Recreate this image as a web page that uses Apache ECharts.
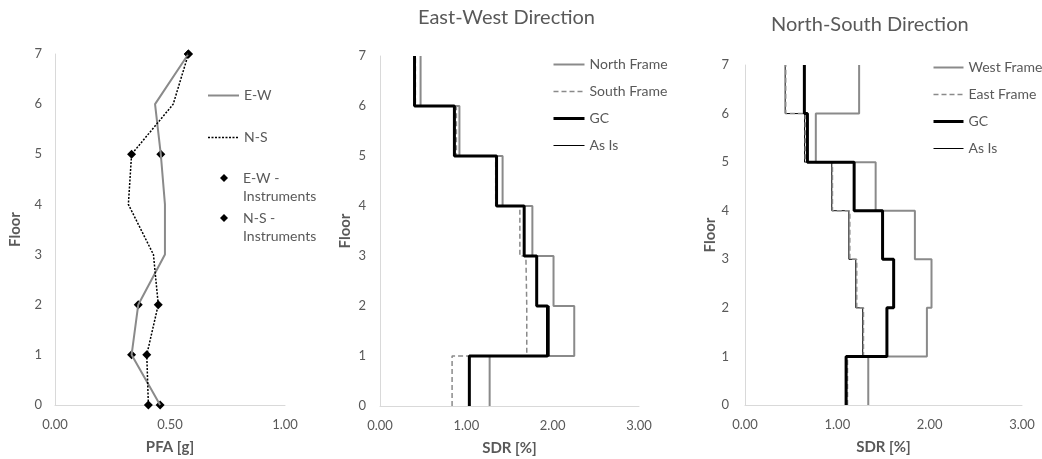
<!DOCTYPE html>
<html lang="en">
<head>
    <meta charset="UTF-8">
    <title>PFA and SDR profiles</title>
    <script src="https://cdn.jsdelivr.net/npm/echarts@6/dist/echarts.min.js"></script>
</head>
<body style="margin:0;background:#fff;">
    <div id="main" style="width:1042px;height:459px;"></div>
    <script type="text/javascript">
        // floors 0..7
        var floors = [0, 1, 2, 3, 4, 5, 6, 7];

        // left panel: peak floor acceleration [g]
        var pfaEW = [0.457, 0.333, 0.362, 0.478, 0.478, 0.46, 0.435, 0.58];
        var pfaNS = [0.406, 0.399, 0.449, 0.428, 0.319, 0.333, 0.514, 0.58];
        var instFloors = [0, 1, 2, 5, 7];
        var instEW = [0.457, 0.333, 0.362, 0.46, 0.58];
        var instNS = [0.406, 0.399, 0.449, 0.333, 0.58];

        // middle panel: story drift ratio [%], story 1..7 (East-West)
        var sdrNorth = [1.27, 2.25, 2.01, 1.765, 1.42, 0.92, 0.47];
        var sdrSouth = [0.835, 1.70, 1.69, 1.62, 1.34, 0.885, 0.41];
        var sdrGcEW = [1.035, 1.94, 1.815, 1.67, 1.35, 0.862, 0.40];
        var sdrAsIsEW = [1.035, 1.96, 1.815, 1.67, 1.35, 0.862, 0.40];

        // right panel: story drift ratio [%], story 1..7 (North-South)
        var sdrWest = [1.335, 1.97, 2.02, 1.84, 1.415, 0.767, 1.236];
        var sdrEast = [1.11, 1.283, 1.21, 1.135, 0.947, 0.652, 0.441];
        var sdrGcNS = [1.095, 1.537, 1.61, 1.49, 1.182, 0.676, 0.643];
        var sdrAsIsNS = [1.10, 1.275, 1.20, 1.125, 0.94, 0.645, 0.435];

        var font = 'Lato';
        var txt = '#595959';
        var gray = '#8a8a8a';

        function pairs(xs, ys) {
            return xs.map(function (v, i) { return [v, ys[i]]; });
        }
        // story value held between floor i and i+1
        function steps(vals) {
            var pts = [];
            vals.forEach(function (v, i) {
                pts.push([v, floors[i]], [v, floors[i + 1]]);
            });
            return pts;
        }

        function xAxis(idx, max, interval, name) {
            return {
                gridIndex: idx, type: 'value', min: 0, max: max, interval: interval,
                name: name, nameLocation: 'middle', nameGap: 35,
                nameTextStyle: { color: txt, fontFamily: font, fontSize: 15, fontWeight: 'bold' },
                axisLine: { show: true, lineStyle: { color: '#d9d9d9', width: 1 } },
                axisTick: { show: false },
                splitLine: { show: false },
                axisLabel: {
                    color: txt, fontFamily: font, fontSize: 13, margin: 13,
                    formatter: function (v) { return v.toFixed(2); }
                }
            };
        }
        function yAxis(idx, nameGap, margin) {
            return {
                gridIndex: idx, type: 'value', min: 0, max: 7, interval: 1,
                name: 'Floor', nameLocation: 'middle', nameGap: nameGap,
                nameTextStyle: { color: txt, fontFamily: font, fontSize: 15, fontWeight: 'bold' },
                axisLine: { show: true, lineStyle: { color: '#d9d9d9', width: 1 } },
                axisTick: { show: false },
                splitLine: { show: false },
                axisLabel: { color: txt, fontFamily: font, fontSize: 13, margin: margin }
            };
        }
        function stepLine(name, idx, vals, color, width, type) {
            return {
                name: name, type: 'line', xAxisIndex: idx, yAxisIndex: idx,
                data: steps(vals), symbol: 'none', silent: true,
                lineStyle: { color: color, width: width, type: type || 'solid' },
                itemStyle: { color: color }
            };
        }
        // legend of line series: only the line, no marker
        function lineLegend(left, top, gap, w, items) {
            return {
                left: left, top: top, orient: 'vertical', padding: 0,
                itemGap: gap, itemWidth: w, itemHeight: 14,
                data: items.map(function (it) {
                    return { name: it[0], lineStyle: { color: it[1], width: it[2], type: it[3] || 'solid' } };
                }),
                selectedMode: false,
                itemStyle: { opacity: 0 },
                textStyle: { color: txt, fontFamily: font, fontSize: 14, lineHeight: 18 }
            };
        }
        // legend of the instrument markers, text in two lines next to the diamond
        function markLegend(top, name) {
            return {
                left: 220, top: top, orient: 'vertical', padding: 0,
                itemWidth: 8, itemHeight: 8,
                data: [{ name: name, icon: 'diamond' }], selectedMode: false,
                formatter: function (n) {
                    var p = n.split(' - ');
                    return '{a|' + p[0] + ' -}\n{a|' + p[1] + '}';
                },
                textStyle: {
                    color: txt, fontFamily: font, fontSize: 14, padding: [18, 0, 0, 10],
                    rich: { a: { color: txt, fontFamily: font, fontSize: 14, lineHeight: 18 } }
                }
            };
        }

        var myChart = echarts.init(document.getElementById('main'));

        var option = {
            animation: false,
            backgroundColor: '#ffffff',
            title: [
                { text: 'East-West Direction', left: 413, top: 3,
                  textStyle: { color: txt, fontFamily: font, fontSize: 20, fontWeight: 'normal' } },
                { text: 'North-South Direction', left: 766, top: 10,
                  textStyle: { color: txt, fontFamily: font, fontSize: 20, fontWeight: 'normal' } }
            ],
            grid: [
                { left: 55, top: 54, width: 230, height: 351, outerBoundsMode: 'none' },
                { left: 380, top: 56, width: 259, height: 350, outerBoundsMode: 'none' },
                { left: 745, top: 65, width: 277, height: 340, outerBoundsMode: 'none' }
            ],
            xAxis: [
                xAxis(0, 1, 0.5, 'PFA [g]'),
                xAxis(1, 3, 1, 'SDR [%]'),
                xAxis(2, 3, 1, 'SDR [%]')
            ],
            yAxis: [
                yAxis(0, 32, 13),
                yAxis(1, 27, 14),
                yAxis(2, 27, 16)
            ],
            legend: [
                lineLegend(207, 86.5, 24, 31, [['E-W', gray, 2], ['N-S', '#000', 1.5, [2, 1.5]]]),
                markLegend(171, 'E-W - Instruments'),
                markLegend(211, 'N-S - Instruments'),
                lineLegend(552, 55.5, 9, 31, [['North Frame', gray, 2], ['South Frame', gray, 1.5, [5, 3]],
                    ['GC', '#000', 3], ['As Is', '#000', 1]]),
                lineLegend(932, 58.5, 9, 30, [['West Frame', gray, 2], ['East Frame', gray, 1.5, [5, 3]],
                    ['GC', '#000', 3], ['As Is', '#000', 1]])
            ],
            series: [
                {
                    name: 'E-W', type: 'line', xAxisIndex: 0, yAxisIndex: 0,
                    data: pairs(pfaEW, floors), symbol: 'none',
                    lineStyle: { color: gray, width: 2 }, itemStyle: { color: gray }
                },
                {
                    name: 'N-S', type: 'line', xAxisIndex: 0, yAxisIndex: 0,
                    data: pairs(pfaNS, floors), symbol: 'none',
                    lineStyle: { color: '#000', width: 1.5, type: [2, 1.5] }, itemStyle: { color: '#000' }
                },
                {
                    name: 'E-W - Instruments', type: 'scatter', xAxisIndex: 0, yAxisIndex: 0,
                    data: pairs(instEW, instFloors), symbol: 'diamond', symbolSize: 9,
                    itemStyle: { color: '#000', opacity: 1 }
                },
                {
                    name: 'N-S - Instruments', type: 'scatter', xAxisIndex: 0, yAxisIndex: 0,
                    data: pairs(instNS, instFloors), symbol: 'diamond', symbolSize: 9,
                    itemStyle: { color: '#000', opacity: 1 }
                },

                stepLine('North Frame', 1, sdrNorth, gray, 2),
                stepLine('South Frame', 1, sdrSouth, gray, 1.5, [5, 3]),
                stepLine('As Is', 1, sdrAsIsEW, '#000', 1),
                stepLine('GC', 1, sdrGcEW, '#000', 3),

                stepLine('West Frame', 2, sdrWest, gray, 2),
                stepLine('As Is', 2, sdrAsIsNS, '#000', 1),
                stepLine('East Frame', 2, sdrEast, gray, 1.5, [5, 3]),
                stepLine('GC', 2, sdrGcNS, '#000', 3)
            ]
        };

        myChart.setOption(option);
    </script>
</body>
</html>
